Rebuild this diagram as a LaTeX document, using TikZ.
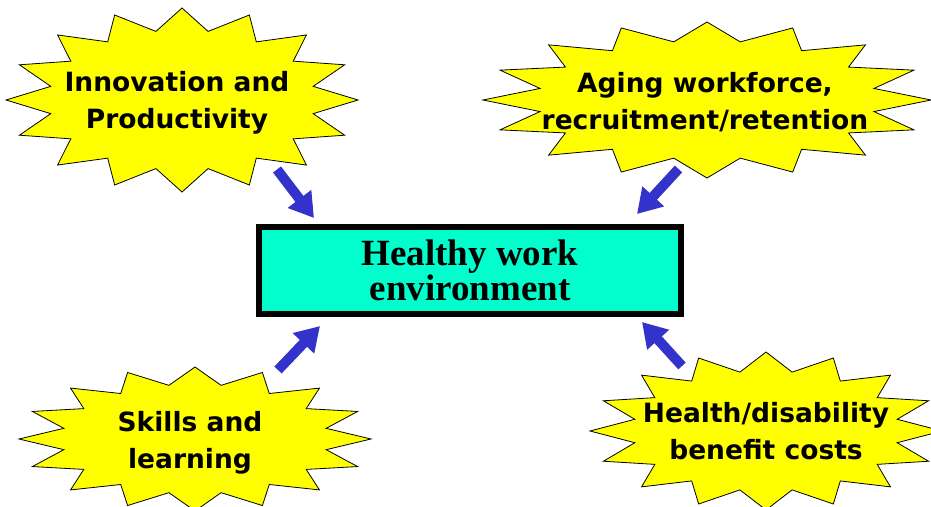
\documentclass[tikz,border=0pt]{standalone}
\usepackage{fontspec}
\usepackage{tikz}
\usetikzlibrary{positioning,arrows.meta}
\setmainfont{Liberation Serif}
\newfontfamily\burstfont{DejaVu Sans}
\definecolor{burstyellow}{RGB}{255,255,0}
\definecolor{boxcyan}{RGB}{0,255,204}
\definecolor{arrowblue}{RGB}{51,51,204}
% starburst: centre x, centre y, x radius, y radius
\newcommand\burst[4]{%
  \draw[burst] plot[samples at={0,...,31}]
    ({#1+#3*(1-0.24*mod(\x,2))*cos(\x*11.25)},{#2+#4*(1-0.24*mod(\x,2))*sin(\x*11.25)}) -- cycle;}

\begin{document}
\begin{tikzpicture}[%
        x=1pt, y=-1pt,
        burst/.style={fill=burstyellow, draw=black, line width=0.8pt},
        bursttext/.style={%
          align=center,
          font={\burstfont\bfseries\fontsize{26.5}{37}\selectfont}
        },
        envbox/.style={%
          draw, line width=6pt, fill=boxcyan,
          minimum width=422pt, minimum height=87pt, inner sep=0pt,
          align=center,
          font={\bfseries\fontsize{37}{35}\selectfont}
        },
        flow/.style={arrowblue, line width=10pt, -{Triangle[width=28pt,length=24pt]}}
      ]
      \useasboundingbox[fill=white] (0,0) rectangle (931,506);
      \burst{182}{100}{176}{92}
      \burst{707}{100}{224}{78}
      \burst{195}{439}{176}{72}
      \burst{766}{431}{176}{79}
      \node[bursttext] (1) at (177,103) {Innovation and\\Productivity};
      \node[bursttext] (2) at (705,102) {Aging workforce,\\recruitment/retention};
      \node[bursttext] (3) at (190,442.5) {Skills and\\learning};
      \node[bursttext] (4) at (766,431) {Health/disability\\benefit costs};
      \node[envbox] (c) at (470,270.5) {Healthy work\\environment};
      \coordinate (t1) at (277,169.5);
      \coordinate (h1) at (314,218);
      \coordinate (t2) at (678.5,169);
      \coordinate (h2) at (637,214);
      \coordinate (t3) at (278,370);
      \coordinate (h3) at (320,326);
      \coordinate (t4) at (682,366);
      \coordinate (h4) at (642,322);
      \draw[flow] (t1) -- (h1);
      \draw[flow] (t2) -- (h2);
      \draw[flow] (t3) -- (h3);
      \draw[flow] (t4) -- (h4);
  \end{tikzpicture}
\end{document}
